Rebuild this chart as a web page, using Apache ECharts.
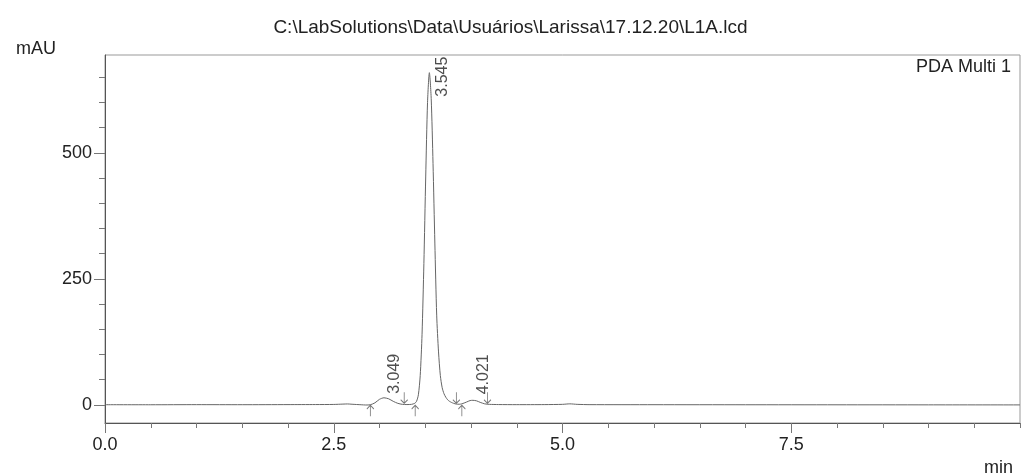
<!DOCTYPE html>
<html>
<head>
<meta charset="utf-8">
<script src="https://cdn.jsdelivr.net/npm/echarts@6/dist/echarts.min.js"></script>
<style>
  html, body { margin: 0; padding: 0; background: #fff; }
  #chart { width: 1021px; height: 474px; }
</style>
</head>
<body>
<div id="chart"></div>
<script>
// ---- data ----
const titleText = 'C:\\LabSolutions\\Data\\Usuários\\Larissa\\17.12.20\\L1A.lcd';
const yUnit = 'mAU';
const xUnit = 'min';
const channelName = 'PDA Multi 1';

const times = [0, 0.5, 1.0, 1.5, 2.0, 2.3, 2.5, 2.6, 2.65, 2.7, 2.8, 2.85, 2.9, 2.95, 3.0, 3.049, 3.1, 3.15, 3.2, 3.25, 3.3, 3.35,
  3.385, 3.405, 3.425, 3.445, 3.465, 3.485, 3.505, 3.525, 3.545, 3.565, 3.585, 3.605, 3.625, 3.645, 3.665, 3.685, 3.705, 3.725,
  3.745, 3.765, 3.785, 3.81, 3.84, 3.87, 3.9, 3.95, 3.99, 4.021, 4.06, 4.1, 4.15, 4.2, 4.3, 4.5, 4.8, 5.0, 5.08, 5.16, 5.3,
  6, 7, 8, 9, 10];
const signal = [0.3, 0.2, 0.4, 0.3, 0.5, 0.6, 0.8, 1.5, 1.8, 1.2, 0.2, -0.3, 0.2, 4, 11, 14, 12, 7, 3, 1, 0.6, 1,
  3, 7, 20, 58, 140, 280, 452, 600, 659, 608, 479, 321, 178, 105, 58, 34, 22, 15,
  10, 7, 5, 3, 1.5, 1.2, 2, 5.5, 8.5, 9, 8, 5, 2, 1, 0.6, 0.4, 0.5, 1.0, 2.0, 1.0, 0.4,
  0.3, 0.2, 0.1, 0.0, -0.1];

const peakTimes = [3.049, 3.545, 4.021];
const peakHeights = [14, 659, 9];
const peakStartTimes = [2.90, 3.39, 3.90];
const peakEndTimes = [3.27, 3.84, 4.18];

const xTickLabels = [0, 2.5, 5.0, 7.5];
const yTickLabels = [0, 250, 500];
const yMinorTicks = [0, 50, 100, 150, 200, 250, 300, 350, 400, 450, 500, 550, 600, 650];

// ---- chart ----
const FONT = 'Liberation Sans';
const chart = echarts.init(document.getElementById('chart'));
const lineData = times.map((t, i) => [t, signal[i]]);
const labelOffsets = [[11, -4], [13, 24], [11, -6]];
const peakLabelData = peakTimes.map((t, i) => ({
  value: [t, peakHeights[i]],
  label: { position: labelOffsets[i] }
}));

chart.setOption({
  animation: false,
  backgroundColor: '#fff',
  textStyle: { fontFamily: FONT },
  title: [
    { text: titleText, left: 'center', top: 13, textStyle: { fontFamily: FONT, fontSize: 19, fontWeight: 'normal', color: '#222' } },
    { text: yUnit, left: 11, top: 35, textStyle: { fontFamily: FONT, fontSize: 18, fontWeight: 'normal', color: '#222' } },
    { text: channelName, right: 5, top: 53, textStyle: { fontFamily: FONT, fontSize: 18, fontWeight: 'normal', color: '#222' } },
    { text: xUnit, right: 3, top: 454, textStyle: { fontFamily: FONT, fontSize: 18, fontWeight: 'normal', color: '#222' } }
  ],
  grid: { left: 105, right: 1, top: 55, bottom: 51, show: true, borderColor: '#999', borderWidth: 1, backgroundColor: '#fff' },
  xAxis: [
    {
      type: 'value', min: 0, max: 10, interval: 2.5,
      axisLine: { onZero: false, lineStyle: { color: '#555', width: 1 } },
      axisTick: { length: 10, lineStyle: { color: '#777' } },
      axisLabel: { margin: 13, fontSize: 18, color: '#222', fontFamily: FONT, showMaxLabel: false,
        formatter: v => v.toFixed(1) },
      splitLine: { show: false }
    },
    {
      type: 'value', min: 0, max: 10, interval: 0.5, position: 'bottom',
      axisLine: { show: false, onZero: false },
      axisTick: { length: 5, lineStyle: { color: '#777' } },
      axisLabel: { show: false },
      splitLine: { show: false }
    }
  ],
  yAxis: [
    {
      type: 'value', min: -36, max: 694,
      axisLine: { show: true, onZero: false, lineStyle: { color: '#555', width: 1 } },
      axisTick: { show: true, length: 11, customValues: yTickLabels, lineStyle: { color: '#777' } },
      axisLabel: { margin: 13, fontSize: 18, color: '#222', fontFamily: FONT, customValues: yTickLabels },
      splitLine: { show: false }
    },
    {
      type: 'value', min: -36, max: 694, position: 'left',
      axisLine: { show: false, onZero: false },
      axisTick: { show: true, length: 6, customValues: yMinorTicks, lineStyle: { color: '#777' } },
      axisLabel: { show: false },
      splitLine: { show: false }
    }
  ],
  series: [
    {
      type: 'line', data: lineData, showSymbol: false, smooth: 0.25,
      lineStyle: { color: '#666', width: 1 }, z: 3
    },
    {
      type: 'scatter', data: peakLabelData, symbolSize: 0, z: 4,
      label: { show: true, rotate: 90, align: 'left', verticalAlign: 'middle', fontSize: 16, color: '#222', fontFamily: FONT,
        formatter: p => p.value[0].toFixed(3) }
    },
    {
      type: 'scatter', data: peakStartTimes.map(t => [t, 0]), z: 4,
      symbol: 'path://M4,0 L4,12 M0,4 L4,0 L8,4', symbolSize: [7, 11], symbolOffset: [0, 6],
      itemStyle: { color: 'rgba(0,0,0,0)', borderColor: '#555', borderWidth: 1 }
    },
    {
      type: 'scatter', data: peakEndTimes.map(t => [t, 0]), z: 4,
      symbol: 'path://M4,0 L4,12 M0,8 L4,12 L8,8', symbolSize: [7, 11], symbolOffset: [0, -7],
      itemStyle: { color: 'rgba(0,0,0,0)', borderColor: '#555', borderWidth: 1 }
    }
  ]
});
</script>
</body>
</html>
